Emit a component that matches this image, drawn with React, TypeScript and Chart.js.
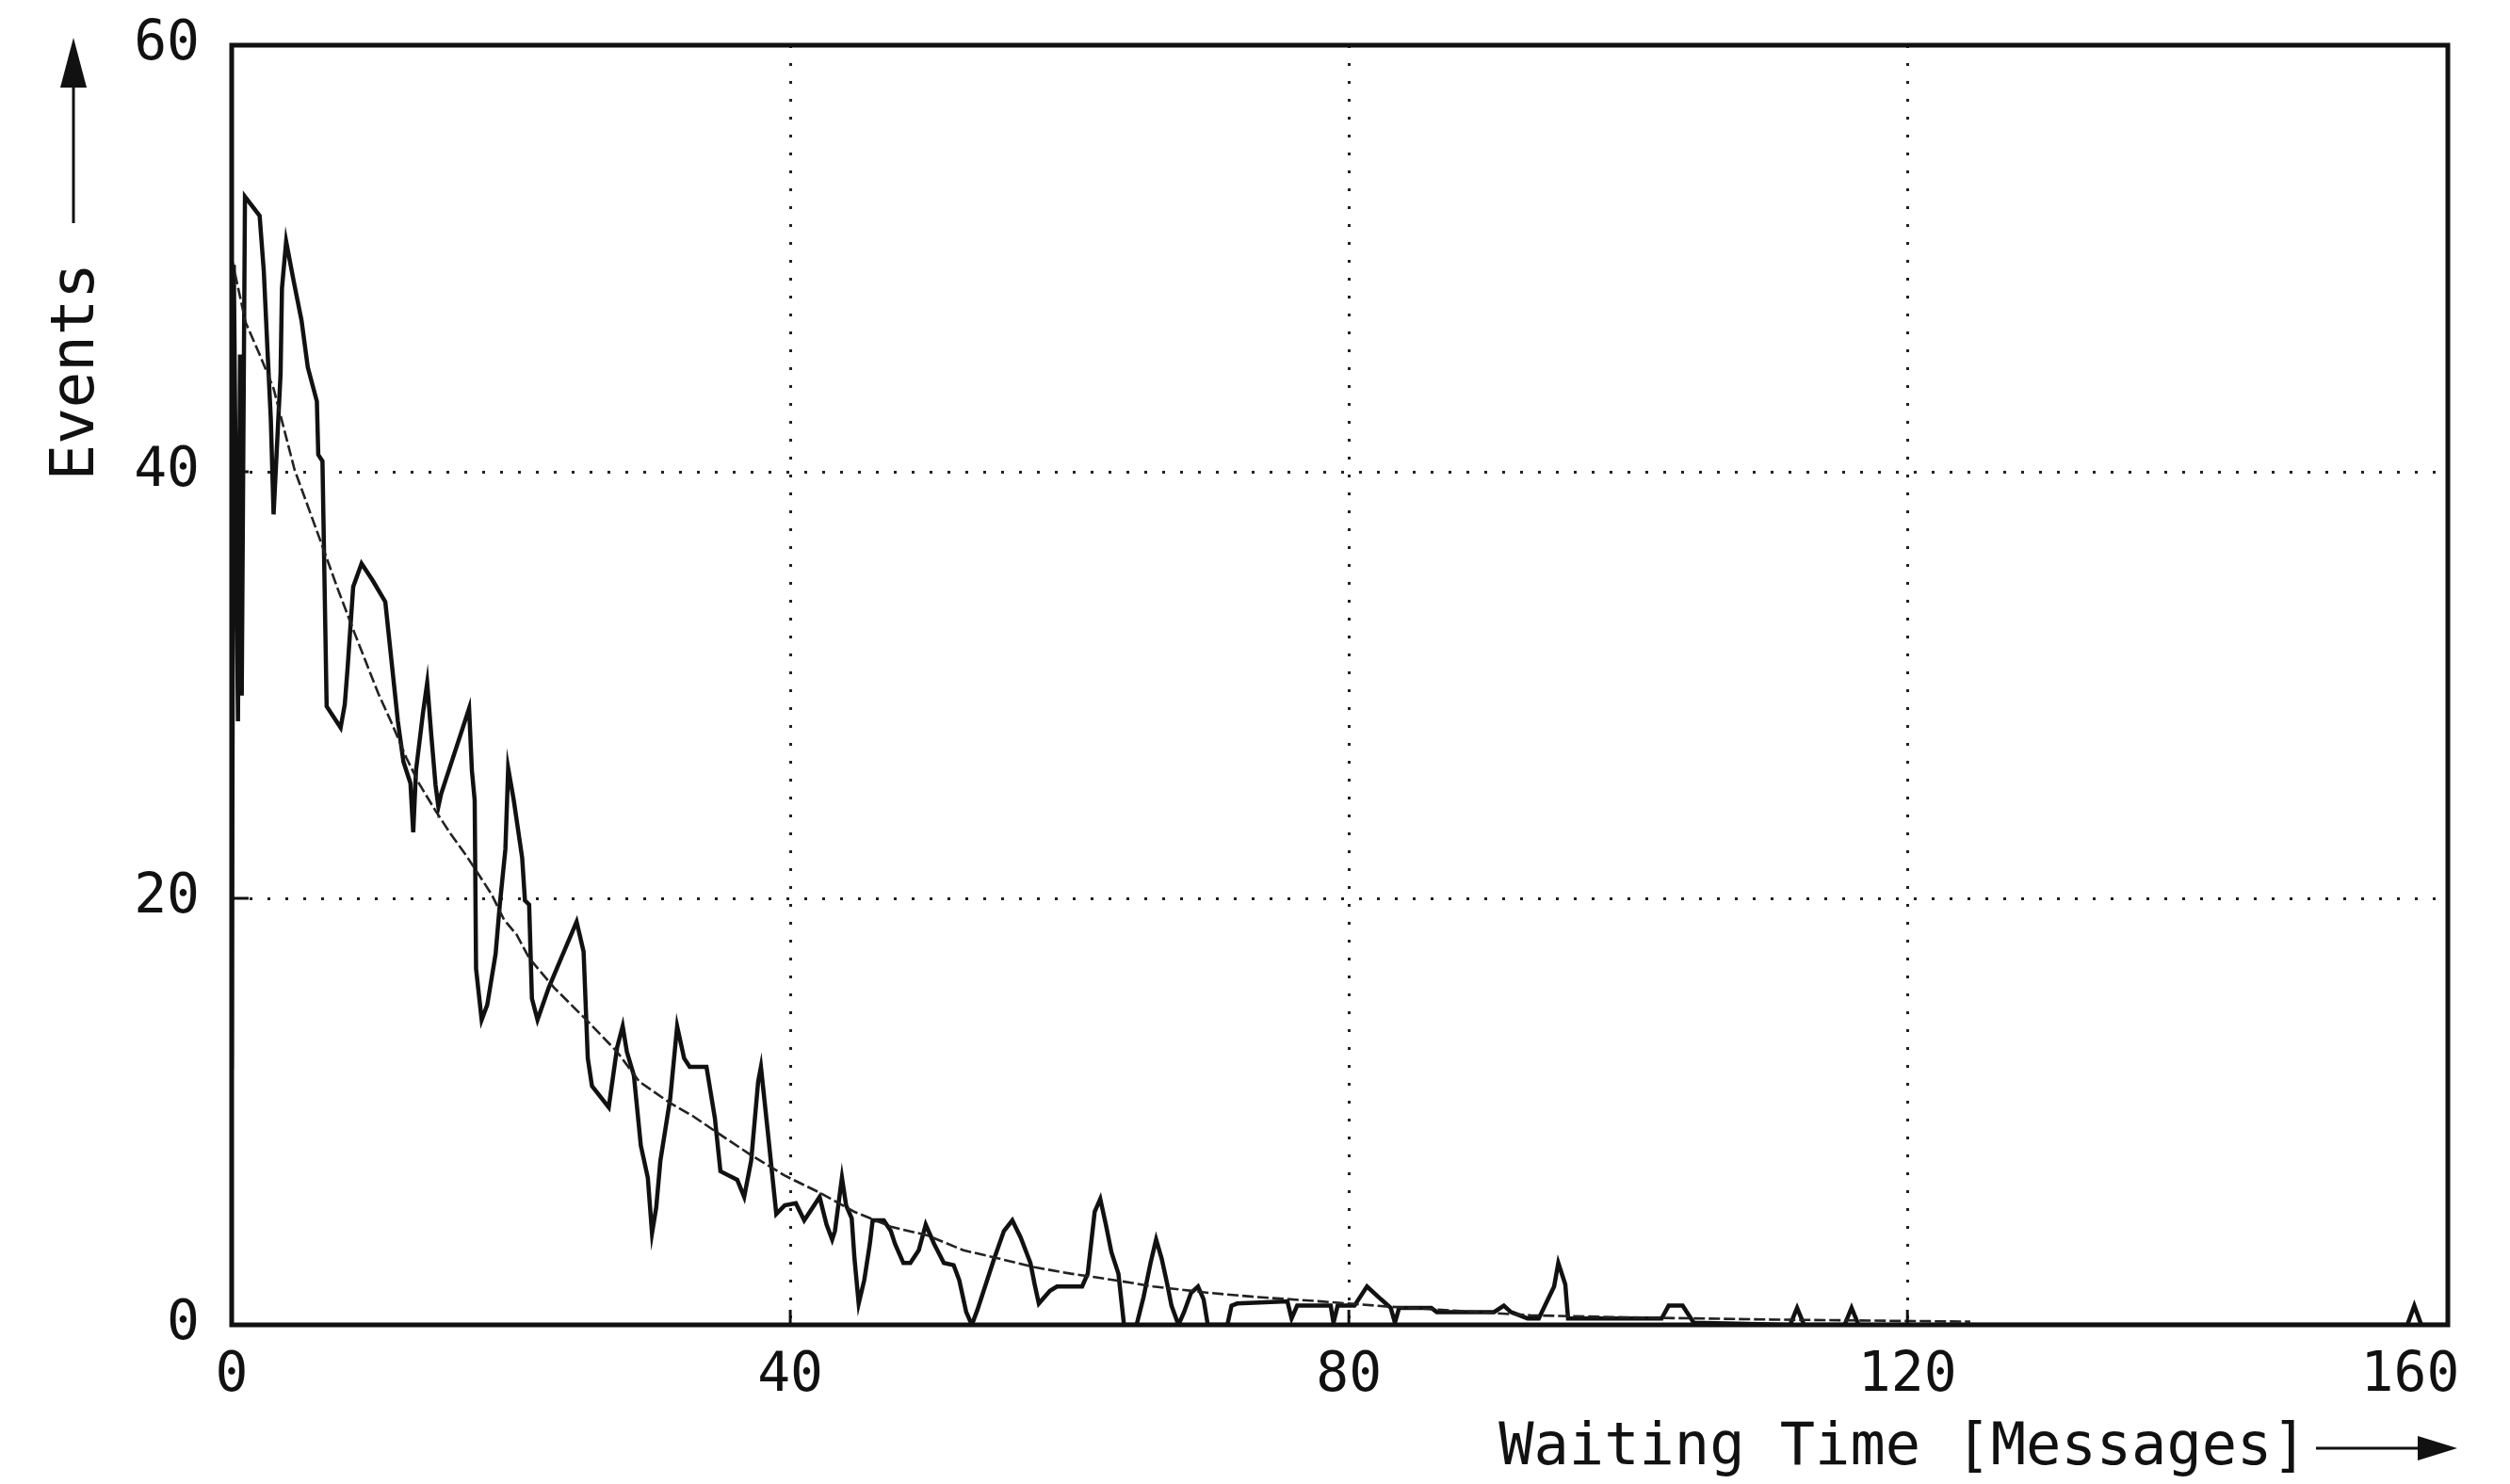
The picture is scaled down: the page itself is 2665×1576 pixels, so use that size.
import React, { useEffect, useRef } from 'react';
import { Chart, registerables } from 'chart.js';

Chart.register(...registerables);

// Measured histogram trace (waiting time in messages, number of events)
const measuredX = [
  0, 0.15, 0.45, 0.6, 0.72, 0.95, 2.0, 2.3, 2.6, 2.8, 3.0, 3.5, 3.6, 3.9, 4.45, 5.0, 5.45, 6.1, 6.2, 6.5,
  6.8, 7.8, 8.1, 8.3, 8.7, 9.3, 10.1, 11.0, 11.4, 11.9, 12.3, 12.8, 13.0, 13.2, 13.7, 14.0, 14.3, 14.6, 14.8, 15.0,
  16.4, 17.0, 17.2, 17.4, 17.5, 17.9, 18.3, 18.9, 19.2, 19.6, 19.8, 20.2, 20.8, 21.0, 21.3, 21.5, 21.9, 22.7, 23.6, 24.7,
  25.2, 25.5, 25.8, 27.0, 27.6, 28.0, 28.3, 28.8, 29.3, 29.8, 30.1, 30.4, 30.7, 31.4, 31.9, 32.4, 32.8, 34.0, 34.6, 35.0,
  36.2, 36.7, 37.2, 37.7, 37.9, 38.4, 39.0, 39.6, 40.4, 41.0, 41.8, 42.1, 42.6, 43.0, 43.2, 43.7, 44.0, 44.4, 44.6, 44.9,
  45.3, 45.7, 45.9, 46.7, 47.2, 47.5, 48.1, 48.6, 49.2, 49.7, 50.3, 51.0, 51.7, 52.1, 52.6, 53.0, 53.4, 54.6, 55.3, 55.9,
  56.5, 57.2, 57.5, 57.8, 58.6, 59.1, 60.9, 61.3, 61.8, 62.2, 62.6, 63.0, 63.5, 63.9, 64.8, 65.3, 65.8, 66.2, 66.6, 67.0,
  67.3, 67.8, 68.2, 68.7, 69.2, 69.6, 69.9, 71.3, 71.6, 72.0, 75.6, 75.9, 76.3, 78.7, 78.9, 79.2, 80.4, 81.3, 82.3, 83.0,
  83.3, 83.6, 85.9, 86.3, 90.4, 91.1, 91.6, 92.8, 93.6, 94.7, 95.0, 95.5, 95.7, 102.4, 102.9, 103.9, 104.7, 111.6, 112.1, 112.6,
  115.5, 116.0, 116.5, 155.8, 156.3, 156.8, 158.7,
];
const measuredY = [
  12, 49.7, 28.3, 45.5, 29.5, 52.9, 52.0, 49.4, 45.2, 42.5, 38.0, 44.6, 48.6, 50.8, 48.9, 47.1, 44.9, 43.3, 40.8, 40.5,
  29.0, 28.0, 29.1, 30.8, 34.6, 35.7, 34.9, 33.9, 31.4, 28.3, 26.4, 25.4, 23.1, 26.0, 28.7, 30.1, 27.6, 25.3, 24.3, 24.9,
  27.7, 28.9, 26.0, 24.6, 16.7, 14.3, 15.0, 17.4, 19.7, 22.3, 26.1, 24.6, 21.9, 19.9, 19.7, 15.3, 14.3, 15.8, 17.2, 18.9,
  17.5, 12.5, 11.2, 10.2, 13.0, 14.0, 12.8, 11.7, 8.4, 6.9, 4.3, 5.5, 7.7, 10.6, 14.0, 12.5, 12.1, 12.1, 9.7, 7.2,
  6.8, 6.0, 7.7, 11.4, 12.1, 9.0, 5.2, 5.6, 5.7, 4.9, 5.7, 6.0, 4.7, 4.0, 4.4, 6.9, 5.6, 5.0, 3.1, 1.0,
  2.1, 3.8, 4.9, 4.9, 4.4, 3.8, 2.9, 2.9, 3.5, 4.7, 3.8, 2.9, 2.8, 2.1, 0.6, 0, 0.7, 3.1, 4.4, 4.9,
  4.1, 2.9, 1.9, 1.0, 1.6, 1.8, 1.8, 2.4, 5.3, 5.9, 4.7, 3.4, 2.4, 0, 0, 1.3, 2.9, 4.0, 3.1, 1.9,
  0.9, 0, 0.6, 1.5, 1.8, 1.2, 0, 0, 0.9, 1.0, 1.1, 0.3, 0.9, 0.9, 0.1, 0.9, 0.9, 1.8, 1.2, 0.8,
  0.1, 0.8, 0.8, 0.6, 0.6, 0.9, 0.6, 0.3, 0.3, 1.8, 2.9, 1.9, 0.3, 0.3, 0.9, 0.9, 0.1, 0, 0.8, 0,
  0, 0.8, 0, 0, 0.9, 0, 0,
];

// Fitted distribution curve
const fitX = [
  0, 1, 2, 3, 4.5, 6.5, 7.6, 8.7, 9.6, 10.5, 11.4, 12.5, 13.4, 14.6, 15.7, 16.8, 17.5, 18.6, 19.5, 20.4,
  21.3, 23.1, 25.4, 27.6, 29.2, 31.4, 33.0, 34.8, 37.1, 39.6, 42.1, 44.6, 47.2, 49.8, 52.4, 55.0, 57.5, 60.1, 63.2, 66.0,
  70.0, 73.5, 78, 83, 88, 93, 100, 110, 124.5,
];
const fitY = [
  50, 47, 45.5, 43.9, 40.1, 36.5, 34.5, 32.6, 31.1, 29.6, 28.3, 26.6, 25.4, 24.1, 23.0, 22.0, 21.3, 20.2, 19.0, 18.3,
  17.2, 15.8, 14.3, 12.8, 11.4, 10.4, 9.8, 9.0, 8.0, 7.0, 6.2, 5.3, 4.6, 4.2, 3.5, 3.1, 2.7, 2.4, 2.1, 1.8,
  1.5, 1.3, 1.1, 0.85, 0.65, 0.45, 0.35, 0.25, 0.15,
];

const xTickValues = [0, 40, 80, 120, 156];
const xTickLabels = ['0', '40', '80', '120', '160'];
const xGridValues = [40, 80, 120];
const yGridValues = [20, 40];
const xTitle = 'Waiting Time [Messages]';
const yTitle = 'Events';

const FONT = '"DejaVu Sans Mono", "Liberation Mono", monospace';
const INK = '#111111';

export default function App() {
  const ref = useRef<HTMLCanvasElement | null>(null);

  useEffect(() => {
    const canvas = ref.current;
    if (!canvas) return;

    const framePlugin = {
      id: 'plotterFrame',
      afterDraw(chart: any) {
        const { ctx, chartArea: a, scales } = chart;
        ctx.save();
        ctx.strokeStyle = INK;
        ctx.fillStyle = INK;
        ctx.lineCap = 'butt';
        // inner tick marks
        ctx.lineWidth = 3;
        xGridValues.forEach((v) => {
          const px = scales.x.getPixelForValue(v);
          ctx.beginPath();
          ctx.moveTo(px, a.bottom);
          ctx.lineTo(px, a.bottom - 16);
          ctx.stroke();
        });
        yGridValues.forEach((v) => {
          const py = scales.y.getPixelForValue(v);
          ctx.beginPath();
          ctx.moveTo(a.left, py);
          ctx.lineTo(a.left + 18, py);
          ctx.stroke();
        });
        // frame
        ctx.lineWidth = 5;
        ctx.strokeRect(a.left, a.top, a.right - a.left, a.bottom - a.top);
        // y arrow
        const ax = a.left - 168;
        ctx.lineWidth = 3;
        ctx.beginPath();
        ctx.moveTo(ax, a.top + 189);
        ctx.lineTo(ax, a.top + 40);
        ctx.stroke();
        ctx.beginPath();
        ctx.moveTo(ax, a.top - 8);
        ctx.lineTo(ax - 14, a.top + 45);
        ctx.lineTo(ax + 14, a.top + 45);
        ctx.closePath();
        ctx.fill();
        // x arrow
        const ay = a.bottom + 131;
        ctx.beginPath();
        ctx.moveTo(a.right - 140, ay);
        ctx.lineTo(a.right - 30, ay);
        ctx.stroke();
        ctx.beginPath();
        ctx.moveTo(a.right + 10, ay);
        ctx.lineTo(a.right - 32, ay - 13);
        ctx.lineTo(a.right - 32, ay + 13);
        ctx.closePath();
        ctx.fill();
        ctx.restore();
      },
    };

    const chart = new Chart(canvas, {
      type: 'line',
      data: {
        datasets: [
          {
            label: 'Fit',
            data: fitX.map((x, i) => ({ x, y: fitY[i] })),
            borderColor: '#222222',
            borderWidth: 2.6,
            borderDash: [12, 4],
            pointRadius: 0,
            tension: 0,
            fill: false,
          },
          {
            label: 'Measured',
            data: measuredX.map((x, i) => ({ x, y: measuredY[i] })),
            borderColor: INK,
            borderWidth: 4.5,
            pointRadius: 0,
            tension: 0,
            fill: false,
          },
        ],
      },
      options: {
        responsive: false,
        animation: false,
        events: [],
        layout: { padding: { top: 48, right: 66, left: 0, bottom: 0 } },
        plugins: {
          legend: { display: false },
          tooltip: { enabled: false },
        },
        scales: {
          x: {
            type: 'linear',
            min: 0,
            max: 158.7,
            afterBuildTicks: (s: any) => {
              s.ticks = xTickValues.map((v) => ({ value: v }));
            },
            afterFit: (s: any) => {
              s.height = 169;
              s.paddingLeft = 0;
              s.paddingRight = 0;
            },
            ticks: {
              autoSkip: false,
              maxRotation: 0,
              padding: 20,
              color: INK,
              font: { family: FONT, size: 58 },
              callback: (v: any) => {
                const i = xTickValues.indexOf(Number(v));
                return i >= 0 ? xTickLabels[i] : '';
              },
            },
            grid: {
              drawTicks: false,
              lineWidth: 3,
              color: (c: any) =>
                c.tick && xGridValues.indexOf(c.tick.value) >= 0 ? '#222222' : 'rgba(0,0,0,0)',
            },
            border: { display: false, dash: [3, 16] },
            title: {
              display: true,
              text: xTitle + '    ',
              align: 'end',
              color: INK,
              font: { family: FONT, size: 62 },
              padding: { top: 0, bottom: 0 },
            },
          },
          y: {
            type: 'linear',
            min: 0,
            max: 60,
            afterFit: (s: any) => {
              s.width = 246;
              s.paddingTop = 0;
              s.paddingBottom = 0;
            },
            ticks: {
              stepSize: 20,
              padding: 34,
              color: INK,
              font: { family: FONT, size: 58 },
            },
            grid: {
              drawTicks: false,
              lineWidth: 3,
              color: (c: any) =>
                c.tick && yGridValues.indexOf(c.tick.value) >= 0 ? '#222222' : 'rgba(0,0,0,0)',
            },
            border: { display: false, dash: [3, 16] },
            title: {
              display: true,
              text: yTitle + '      ',
              align: 'end',
              color: INK,
              font: { family: FONT, size: 64 },
              padding: { top: 43.6, bottom: 0 },
            },
          },
        },
      },
      plugins: [framePlugin],
    } as any);

    return () => chart.destroy();
  }, []);

  return (
    <div style={{ position: 'absolute', left: 0, top: 0, width: 2665, height: 1576, background: '#fff' }}>
      <canvas ref={ref} width={2665} height={1576} style={{ display: 'block', width: 2665, height: 1576 }} />
    </div>
  );
}
